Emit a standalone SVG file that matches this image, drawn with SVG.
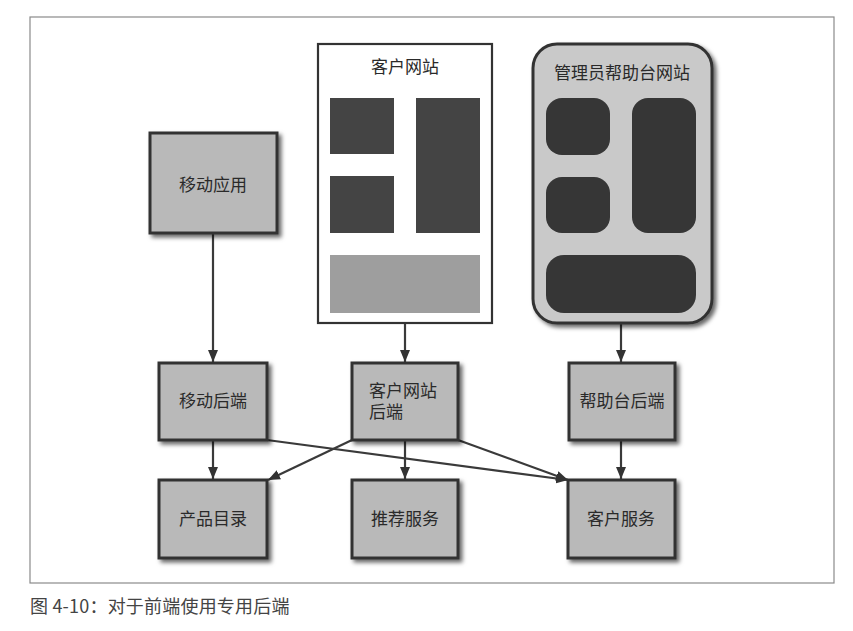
<svg xmlns="http://www.w3.org/2000/svg" width="853" height="631" viewBox="0 0 853 631">
<style>
.lbl{font-family:"Noto Sans CJK SC","Liberation Serif",serif;font-size:17px;fill:#2a2a2a;text-anchor:middle}
.box{fill:#b9b9b9;stroke:#333;stroke-width:3;filter:url(#sh)}
.conn{stroke:#3a3a3a;stroke-width:2.2;fill:none;marker-end:url(#ah)}
.cap{font-family:"Noto Sans CJK SC","Liberation Sans",sans-serif;font-size:18px;letter-spacing:0.2px;fill:#444}
</style>
<defs>
<filter id="sh" x="-20%" y="-20%" width="140%" height="140%">
<feDropShadow dx="3" dy="3" stdDeviation="2" flood-color="#000" flood-opacity="0.6"/>
</filter>
<marker id="ah" viewBox="0 0 12 10" refX="12" refY="5" markerWidth="12" markerHeight="10" markerUnits="userSpaceOnUse" orient="auto">
<path d="M0,0 L12,5 L0,10 Z" fill="#333"/>
</marker>
</defs>
<rect x="0" y="0" width="853" height="631" fill="#fff"/>
<rect x="30" y="17" width="804" height="566" fill="#fff" stroke="#8a8a8a" stroke-width="1.2"/>

<g id="connectors">
<line class="conn" x1="213" y1="234" x2="213" y2="362"/>
<line class="conn" x1="405" y1="324" x2="405" y2="362"/>
<line class="conn" x1="621" y1="324" x2="621" y2="362"/>
<line class="conn" x1="213" y1="441" x2="213" y2="479"/>
<line class="conn" x1="405" y1="441" x2="405" y2="479"/>
<line class="conn" x1="621" y1="441" x2="621" y2="479"/>
<line class="conn" x1="267" y1="440" x2="568" y2="480"/>
<line class="conn" x1="352" y1="440" x2="268" y2="480"/>
<line class="conn" x1="458" y1="440" x2="568" y2="480"/>
</g>

<g id="mobile-app">
<rect class="box" x="150" y="133" width="127" height="100"/>
<text class="lbl" x="213" y="191">移动应用</text>
</g>

<g id="customer-site">
<rect x="318" y="44" width="174" height="279" fill="#fff" stroke="#333" stroke-width="2.2"/>
<text class="lbl" x="405" y="73">客户网站</text>
<rect x="330" y="98" width="64" height="56" fill="#444"/>
<rect x="416" y="98" width="64" height="135" fill="#444"/>
<rect x="330" y="176" width="64" height="57" fill="#444"/>
<rect x="330" y="255" width="150" height="58" fill="#9e9e9e"/>
</g>

<g id="admin-site">
<rect x="533" y="44" width="179" height="279" rx="24" ry="24" fill="#c9c9c9" stroke="#333" stroke-width="3" filter="url(#sh)"/>
<text class="lbl" x="622" y="79">管理员帮助台网站</text>
<rect x="546" y="98" width="64" height="57" rx="16" fill="#363636"/>
<rect x="632" y="98" width="64" height="135" rx="16" fill="#363636"/>
<rect x="546" y="177" width="64" height="56" rx="16" fill="#363636"/>
<rect x="546" y="255" width="150" height="58" rx="18" fill="#363636"/>
</g>

<g id="mobile-backend">
<rect class="box" x="159" y="363" width="108" height="77"/>
<text class="lbl" x="213" y="407">移动后端</text>
</g>

<g id="customer-site-backend">
<rect class="box" x="352" y="363" width="106" height="77"/>
<text class="lbl" style="text-anchor:start"><tspan x="369" y="397">客户网站</tspan><tspan x="369" y="418">后端</tspan></text>
</g>

<g id="helpdesk-backend">
<rect class="box" x="569" y="363" width="106" height="77"/>
<text class="lbl" x="622" y="407">帮助台后端</text>
</g>

<g id="product-catalog">
<rect class="box" x="159" y="480" width="108" height="78"/>
<text class="lbl" x="213" y="525">产品目录</text>
</g>

<g id="recommendation">
<rect class="box" x="352" y="480" width="106" height="78"/>
<text class="lbl" x="405" y="525">推荐服务</text>
</g>

<g id="customer-service">
<rect class="box" x="568" y="480" width="107" height="78"/>
<text class="lbl" x="621" y="525">客户服务</text>
</g>

<text class="cap" x="30" y="613">图 4-10：对于前端使用专用后端</text>
</svg>
